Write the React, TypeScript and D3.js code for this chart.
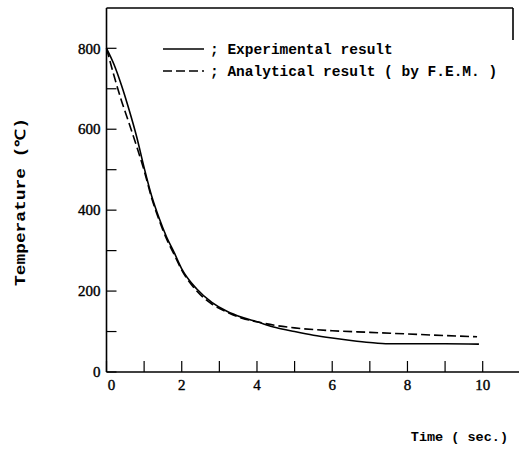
import React from "react";
import * as d3 from "d3";

// Cooling curve: temperature (°C) vs time (s)
const expTime = [0, 0.2, 0.4, 0.6, 0.8, 1.0, 1.2, 1.4, 1.6, 1.8, 2.0, 2.4, 2.8, 3.2, 3.6, 4.0, 4.5, 5.0, 5.5, 6.0, 6.5, 7.0, 7.5, 8.0, 9.0, 9.9];
const expTemp = [800, 760, 708, 648, 582, 505, 435, 380, 333, 295, 255, 205, 172, 150, 135, 124, 110, 100, 91, 84, 78, 73, 70, 70, 70, 69];

const femTime = [0, 0.2, 0.4, 0.6, 0.8, 1.0, 1.2, 1.4, 1.6, 1.8, 2.0, 2.4, 2.8, 3.2, 3.6, 4.0, 4.5, 5.0, 6.0, 7.0, 8.0, 9.0, 9.85];
const femTemp = [800, 732, 670, 615, 558, 498, 430, 375, 328, 290, 252, 200, 168, 148, 133, 124, 115, 109, 102, 98, 94, 90, 87];

const xTicks = [0, 1, 2, 3, 4, 5, 6, 7, 8, 9, 10];
const xTickLabels = [0, 2, 4, 6, 8, 10];
const yTicks = [0, 100, 200, 300, 400, 500, 600, 700, 800];
const yTickLabels = [0, 200, 400, 600, 800];

const legendLabels = ["; Experimental result", "; Analytical result ( by F.E.M. )"];

const W = 519;
const H = 453;

export default function App() {
  const x = d3.scaleLinear().domain([0, 10]).range([106.5, 482.7]);
  const y = d3.scaleLinear().domain([0, 800]).range([372, 48.3]);

  const line = d3
    .line<[number, number]>()
    .x((d) => x(d[0]))
    .y((d) => y(d[1]))
    .curve(d3.curveMonotoneX);

  const expPath = line(expTime.map((t, i) => [t, expTemp[i]]) as [number, number][]) || "";
  const femPath = line(femTime.map((t, i) => [t, femTemp[i]]) as [number, number][]) || "";

  const x0 = x(0);
  const y0 = y(0);
  const top = 8;
  const right = 513;

  const numFont = "'Liberation Serif', 'DejaVu Serif', serif";
  const monoFont = "'Liberation Mono', 'DejaVu Sans Mono', monospace";

  return (
    <svg
      width={W}
      height={H}
      viewBox={`0 0 ${W} ${H}`}
      style={{ position: "absolute", left: 0, top: 0, background: "#fff" }}
    >
      <rect x={0} y={0} width={W} height={H} fill="#fff" />
      {/* frame */}
      <g stroke="#000" strokeWidth={1.6} fill="none">
        <line x1={x0} y1={top} x2={x0} y2={y0} />
        <line x1={x0} y1={y0} x2={W} y2={y0} />
        <line x1={x0} y1={top} x2={right} y2={top} />
        <line x1={right} y1={top} x2={right} y2={40} />
      </g>
      {/* x ticks */}
      <g stroke="#000" strokeWidth={1.2}>
        {xTicks.map((t) => (
          <line key={t} x1={x(t)} y1={y0} x2={x(t)} y2={y0 - 11} />
        ))}
      </g>
      {/* y ticks */}
      <g stroke="#000" strokeWidth={1.2}>
        {yTicks.map((t) => (
          <line key={t} x1={x0} y1={y(t)} x2={x0 + 10} y2={y(t)} />
        ))}
      </g>
      {/* tick labels */}
      <g fontFamily={numFont} fontSize={15} fill="#000" stroke="#000" strokeWidth={0.4}>
        {xTickLabels.map((t) => (
          <text key={t} x={t === 0 ? x(t) + 5 : x(t)} y={y0 + 18} textAnchor="middle">
            {t}
          </text>
        ))}
        {yTickLabels.map((t) => (
          <text key={t} x={x0 - 6} y={y(t)} dy="0.35em" textAnchor="end">
            {t}
          </text>
        ))}
      </g>
      {/* curves */}
      <path d={expPath} fill="none" stroke="#000" strokeWidth={1.6} />
      <path d={femPath} fill="none" stroke="#000" strokeWidth={1.6} strokeDasharray="9,4" />
      {/* legend */}
      <g fontFamily={monoFont} fontSize={14.5} fontWeight="bold" fill="#000">
        <line x1={163} y1={49} x2={204} y2={49} stroke="#000" strokeWidth={1.4} />
        <line x1={163} y1={71} x2={204} y2={71} stroke="#000" strokeWidth={1.4} strokeDasharray="9,4" />
        <text x={210} y={49} dy="0.35em">{legendLabels[0]}</text>
        <text x={210} y={71} dy="0.35em">{legendLabels[1]}</text>
      </g>
      {/* axis titles */}
      <text
        x={508}
        y={441}
        textAnchor="end"
        fontFamily={monoFont}
        fontSize={13.5}
        fontWeight="bold"
        fill="#000"
      >
        Time ( sec.)
      </text>
      <text
        transform="translate(25,202) rotate(-90)"
        textAnchor="middle"
        fontFamily={monoFont}
        fontSize={14}
        fontWeight="bold"
        fill="#000"
        textLength={168}
        lengthAdjust="spacingAndGlyphs"
      >
        Temperature (℃)
      </text>
    </svg>
  );
}
